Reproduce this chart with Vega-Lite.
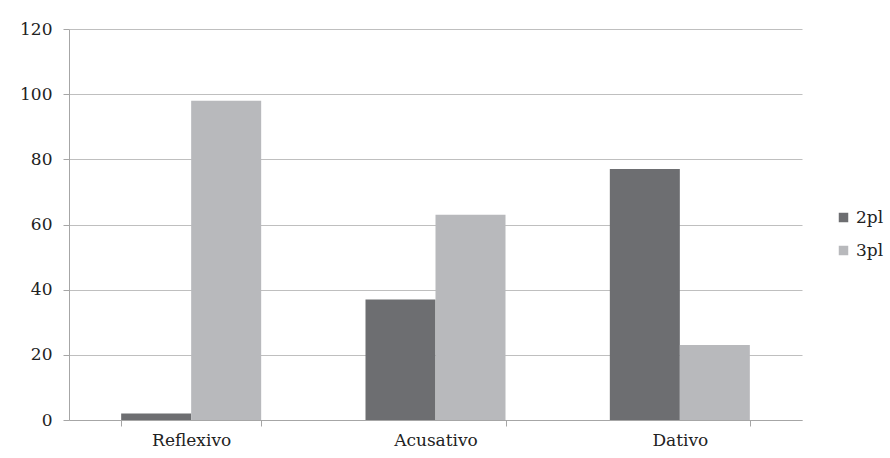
{
  "$schema": "https://vega.github.io/schema/vega-lite/v6.json",
  "width": 733,
  "height": 391,
  "autosize": {"type": "none"},
  "padding": {"left": 69, "top": 29, "right": 88, "bottom": 38},
  "background": "white",
  "data": {"values": [
    {"case": "Reflexivo", "person": "2pl", "value": 2},
    {"case": "Reflexivo", "person": "3pl", "value": 98},
    {"case": "Acusativo", "person": "2pl", "value": 37},
    {"case": "Acusativo", "person": "3pl", "value": 63},
    {"case": "Dativo", "person": "2pl", "value": 77},
    {"case": "Dativo", "person": "3pl", "value": 23}
  ]},
  "mark": {"type": "bar"},
  "encoding": {
    "x": {
      "field": "case", "type": "nominal", "sort": ["Reflexivo", "Acusativo", "Dativo"],
      "scale": {"paddingInner": 0.427, "paddingOuter": 0.2135},
      "axis": {"title": null, "labelAngle": 0, "grid": false, "ticks": true, "tickBand": "extent", "tickSize": 6, "labelPadding": 6,
        "domainColor": "#a6a6a6", "tickColor": "#a6a6a6", "labelFont": "DejaVu Serif", "labelFontSize": 17, "labelColor": "#222222"}
    },
    "xOffset": {"field": "person", "type": "nominal", "scale": {"paddingInner": 0, "paddingOuter": 0}},
    "y": {
      "field": "value", "type": "quantitative",
      "scale": {"domain": [0, 120], "nice": false},
      "axis": {"title": null, "values": [0, 20, 40, 60, 80, 100, 120], "grid": true, "gridColor": "#bfbfbf", "domainColor": "#a6a6a6", "tickColor": "#a6a6a6", "tickSize": 6, "labelPadding": 11,
        "labelFont": "DejaVu Serif", "labelFontSize": 17, "labelColor": "#222222"}
    },
    "color": {
      "field": "person", "type": "nominal",
      "scale": {"domain": ["2pl", "3pl"], "range": ["#6d6e71", "#b8b9bc"]},
      "legend": {"title": null, "orient": "none", "legendX": 766, "legendY": 180, "symbolType": "square", "symbolSize": 90, "symbolStrokeWidth": 0,
        "labelFont": "DejaVu Serif", "labelFontSize": 17, "labelColor": "#222222", "rowPadding": 15, "labelOffset": 4}
    }
  },
  "config": {"view": {"stroke": null}}
}
